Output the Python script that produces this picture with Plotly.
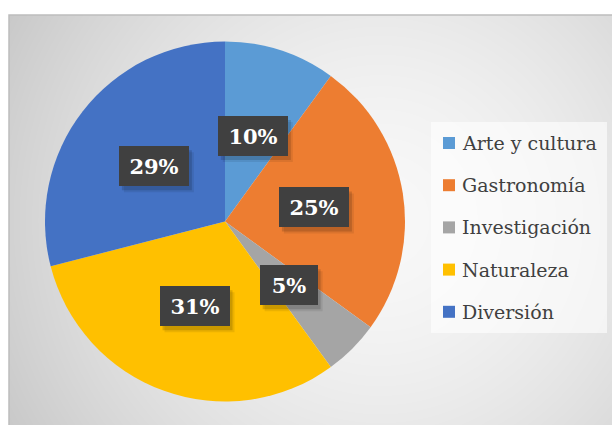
import numpy as np
import plotly.graph_objects as go

W, H = 612, 425

categories = ["Arte y cultura", "Gastronomía", "Investigación", "Naturaleza", "Diversión"]
shares = [10, 25, 5, 31, 29]
slice_colors = ["#5B9BD5", "#ED7D31", "#A5A5A5", "#FFC000", "#4472C4"]

# pie placement (pixels)
PCX, PCY, PR = 225, 221.5, 180
SERIF = "DejaVu Serif"


def px(x):
    return x / W


def py(y):
    return (H - y) / H


fig = go.Figure()

# chart-area background: soft radial gradient
gx = np.linspace(9, 612, 151)
gy = np.linspace(15, 425, 103)
X, Y = np.meshgrid(gx, gy)
dist = np.clip(np.hypot(X - 380, Y - 220) / 450, 0, 1) ** 1.6
fig.add_trace(go.Heatmap(
    x=gx, y=gy, z=dist, zmin=0, zmax=1,
    colorscale=[[0, "#f8f8f8"], [1, "#c4c4c4"]],
    zsmooth="best", showscale=False, hoverinfo="skip",
))

fig.add_trace(go.Pie(
    labels=categories, values=shares, sort=False,
    direction="clockwise", rotation=0,
    marker=dict(colors=slice_colors, line=dict(width=0)),
    textinfo="none", showlegend=False,
    domain=dict(x=[px(PCX - PR), px(PCX + PR)], y=[py(PCY + PR), py(PCY - PR)]),
))

annotations = []
shapes = []

# percentage labels in dark boxes, halfway out along each slice's mid-angle
total = sum(shares)
cum = 0
for v in shares:
    mid = (cum + v / 2) / total * 2 * np.pi
    cum += v
    lx = PCX + 0.5 * PR * np.sin(mid)
    ly = PCY - 0.5 * PR * np.cos(mid)
    txt = f"{v}%"
    bw = 12 * (len(txt) - 1) + 36
    half_w, half_h = (bw + 10) / 2, 20
    # soft drop shadow behind the box
    for dx, dy, col in [(5, 6, "rgba(0,0,0,0.08)"), (3, 4, "rgba(0,0,0,0.14)")]:
        shapes.append(dict(
            type="rect", xref="paper", yref="paper",
            x0=px(lx - half_w + dx), x1=px(lx + half_w + dx),
            y0=py(ly + half_h + dy), y1=py(ly - half_h + dy),
            fillcolor=col, line=dict(width=0), layer="above",
        ))
    annotations.append(dict(
        x=px(lx), y=py(ly), xref="paper", yref="paper", showarrow=False,
        text=f"<b>{txt}</b>",
        font=dict(family=SERIF, size=21, color="white"),
        bgcolor="#404040", width=bw, height=30, borderpad=5, borderwidth=0,
        xanchor="center", yanchor="middle",
    ))

# legend box
shapes.append(dict(type="rect", xref="paper", yref="paper",
                   x0=px(431), x1=px(607), y0=py(333), y1=py(122),
                   fillcolor="rgba(255,255,255,0.6)", line=dict(width=0), layer="above"))
for i, (name, col) in enumerate(zip(categories, slice_colors)):
    yc = 143 + 42.2 * i
    shapes.append(dict(type="rect", xref="paper", yref="paper",
                       x0=px(443), x1=px(455), y0=py(yc + 6), y1=py(yc - 6),
                       fillcolor=col, line=dict(width=0), layer="above"))
    annotations.append(dict(
        x=px(460), y=py(yc), xref="paper", yref="paper", showarrow=False,
        text=name, xanchor="left", yanchor="middle",
        font=dict(family=SERIF, size=19, color="#404040"),
    ))

# chart-area frame
shapes.append(dict(type="rect", xref="paper", yref="paper",
                   x0=px(9), x1=px(613), y0=py(426), y1=py(15),
                   fillcolor="rgba(0,0,0,0)", line=dict(color="#bdbdbd", width=1.5),
                   layer="above"))

fig.update_layout(
    width=W, height=H,
    margin=dict(l=0, r=0, t=0, b=0),
    paper_bgcolor="white", plot_bgcolor="white",
    font=dict(family=SERIF),
    xaxis=dict(domain=[px(9), 1], range=[9, 612], visible=False, fixedrange=True),
    yaxis=dict(domain=[0, py(15)], range=[425, 15], visible=False, fixedrange=True),
    annotations=annotations, shapes=shapes,
    showlegend=False,
)

fig.write_html("out.html")
